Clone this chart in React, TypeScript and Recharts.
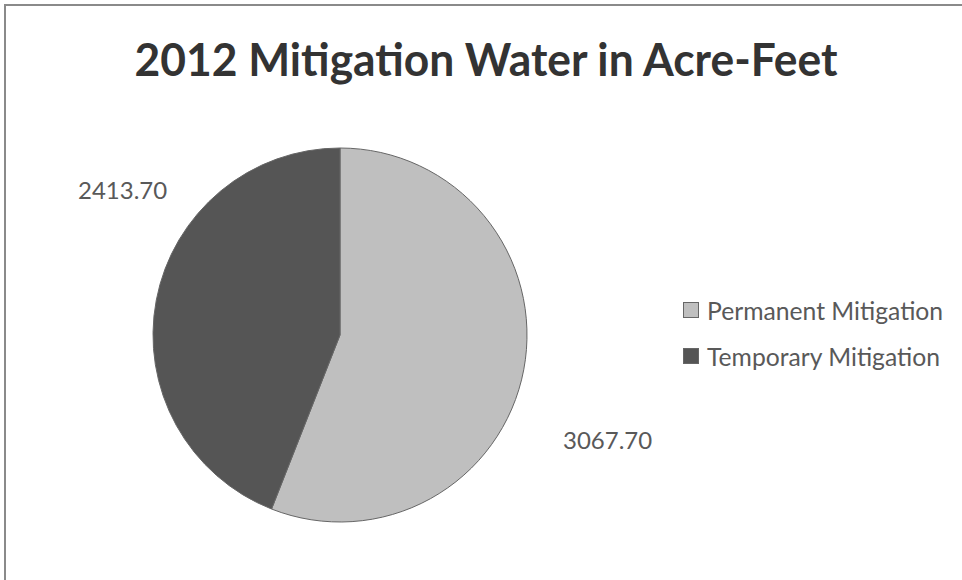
import { PieChart, Pie, Cell, Legend } from 'recharts';

const categories = ['Permanent Mitigation', 'Temporary Mitigation'];
const values = [3067.7, 2413.7];
const valueLabels = ['3067.70', '2413.70'];
const colors = ['#bfbfbf', '#555555'];

const data = categories.map((name, i) => ({ name, value: values[i], label: valueLabels[i] }));

// where Excel's "best fit" put the data labels, relative to the pie centre
const labelOffsets = [
  { dx: 223, dy: 114 },
  { dx: -262, dy: -136 },
];

const renderLabel = (props: any) => {
  const { cx, cy, index } = props;
  const off = labelOffsets[index];
  return (
    <text
      x={cx + off.dx}
      y={cy + off.dy}
      fill="#595959"
      fontSize={24}
      fontFamily="Lato, sans-serif"
      textAnchor="start"
    >
      {data[index].label}
    </text>
  );
};

const renderLegend = (props: any) => {
  const { payload } = props;
  return (
    <div>
      {payload.map((entry: any, i: number) => (
        <div key={entry.value} style={{ display: 'flex', alignItems: 'center', height: 46 }}>
          <div
            style={{
              width: 14,
              height: 14,
              background: colors[i],
              border: '1px solid #666',
              marginRight: 8,
            }}
          />
          <span style={{ fontFamily: 'Lato, sans-serif', fontSize: 24.7, color: '#595959' }}>{entry.value}</span>
        </div>
      ))}
    </div>
  );
};

export default function App() {
  return (
    <div style={{ position: 'absolute', left: 0, top: 0, width: 962, height: 580, background: '#fff', overflow: 'hidden' }}>
      <div
        style={{
          position: 'absolute',
          left: 4,
          top: 4,
          width: 980,
          height: 600,
          border: '2px solid #8a8a8a',
        }}
      />
      <svg style={{ position: 'absolute', left: 0, top: 0 }} width={962} height={100}>
        <text
          x={486}
          y={76}
          textAnchor="middle"
          fontFamily="Lato, sans-serif"
          fontWeight={700}
          fontSize={46}
          fill="#333"
          textLength={703}
          lengthAdjust="spacingAndGlyphs"
        >
          2012 Mitigation Water in Acre-Feet
        </text>
      </svg>
      <div style={{ position: 'absolute', left: 0, top: 0 }}>
        <PieChart width={962} height={580}>
          <Pie
            data={data}
            dataKey="value"
            nameKey="name"
            cx={335}
            cy={330}
            outerRadius={187}
            startAngle={90}
            endAngle={-270}
            stroke="#666"
            strokeWidth={1}
            label={renderLabel}
            labelLine={false}
            isAnimationActive={false}
          >
            {data.map((d, i) => (
              <Cell key={d.name} fill={colors[i]} />
            ))}
          </Pie>
          <Legend
            layout="vertical"
            content={renderLegend}
            wrapperStyle={{ position: 'absolute', left: 683, top: 287, width: 275 }}
          />
        </PieChart>
      </div>
    </div>
  );
}
